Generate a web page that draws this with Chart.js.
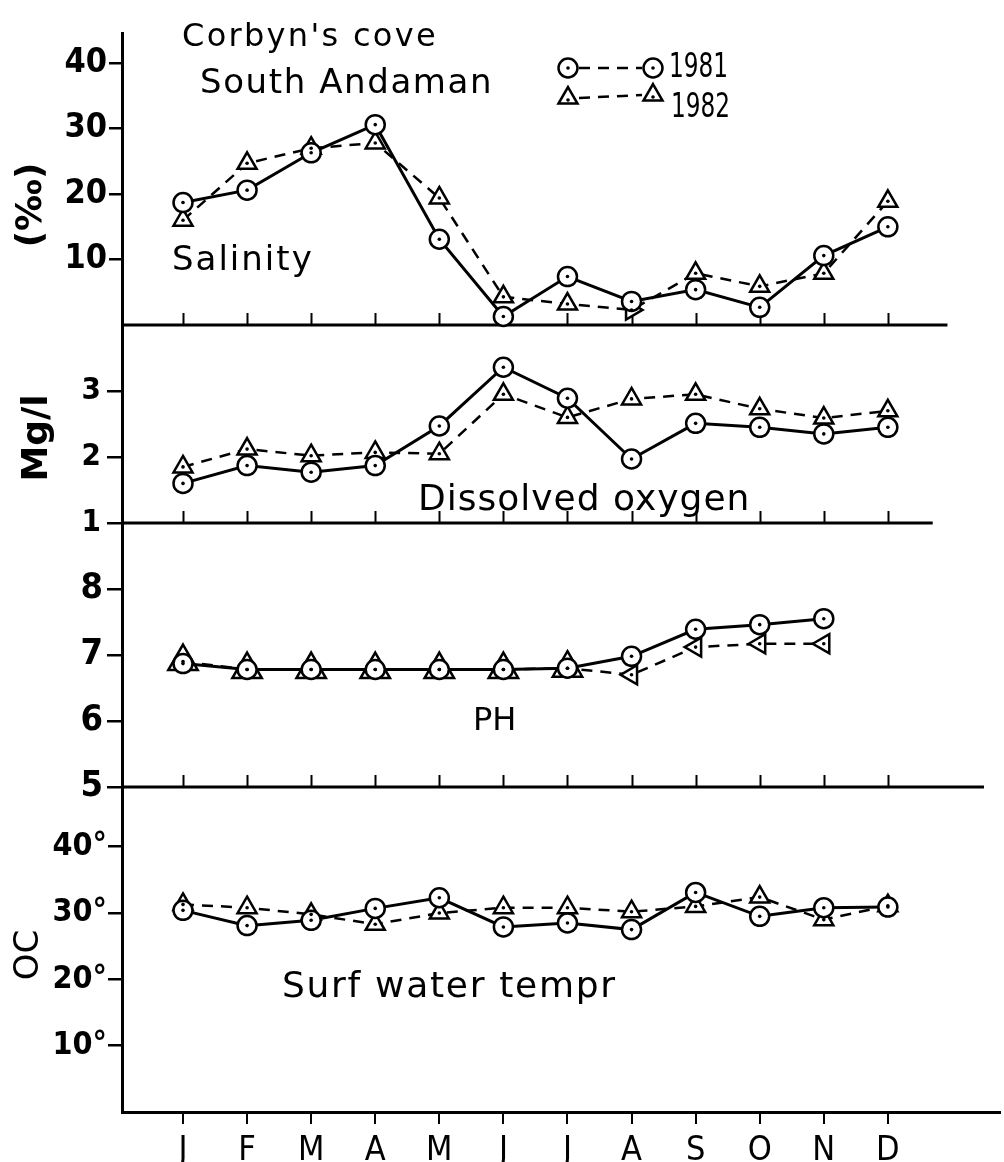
<!DOCTYPE html>
<html>
<head>
<meta charset="utf-8">
<script src="https://cdn.jsdelivr.net/npm/chart.js@4.4.1/dist/chart.umd.min.js"></script>
<style>
  html, body { margin: 0; padding: 0; background: #fff; }
  #wrap { position: relative; width: 1004px; height: 1162px; overflow: hidden; }
  canvas { position: absolute; left: 0; }
</style>
</head>
<body>
<div id="wrap">
  <canvas id="c-sal" width="1004" height="340" style="top:0px"></canvas>
  <canvas id="c-oxy" width="1004" height="218" style="top:315px"></canvas>
  <canvas id="c-ph" width="1004" height="284" style="top:513px"></canvas>
  <canvas id="c-temp" width="1004" height="385" style="top:777px"></canvas>
</div>
<script>
const months = ['J', 'F', 'M', 'A', 'M', 'J', 'J', 'A', 'S', 'O', 'N', 'D']

const salinity1981 = [18.7, 20.6, 26.3, 30.6, 13.1, 1.3, 7.4, 3.6, 5.4, 2.7, 10.6, 15.0]
const salinity1982 = [16.0, 24.7, 27.0, 27.8, 19.4, 4.3, 3.2, 2.3, 7.9, 5.9, 7.9, 18.9]
const oxygen1981   = [1.60, 1.87, 1.77, 1.87, 2.47, 3.36, 2.89, 1.97, 2.51, 2.45, 2.35, 2.45]
const oxygen1982   = [1.85, 2.12, 2.02, 2.07, 2.05, 2.95, 2.60, 2.88, 2.95, 2.73, 2.59, 2.70]
const ph1981       = [6.87, 6.78, 6.78, 6.78, 6.78, 6.78, 6.80, 6.98, 7.39, 7.46, 7.55, null]
const ph1982       = [6.90, 6.78, 6.78, 6.78, 6.78, 6.78, 6.80, 6.70, 7.12, 7.17, 7.17, null]
const temp1981     = [30.4, 28.1, 28.9, 30.7, 32.3, 27.9, 28.5, 27.5, 33.1, 29.5, 30.8, 30.9]
const temp1982     = [31.3, 30.8, 29.8, 28.3, 30.0, 30.8, 30.8, 30.2, 31.0, 32.4, 29.0, 31.1]

const salinityTicks = [10, 20, 30, 40]
const oxygenTicks   = [1, 2, 3]
const phTicks       = [5, 6, 7, 8]
const tempTicks     = [10, 20, 30, 40]

const NARROW = '"DejaVu Sans Condensed", "Liberation Sans Narrow", sans-serif'
const LETTER = '"DejaVu Sans", sans-serif'

Chart.defaults.color = '#000'
Chart.defaults.animation = false

// free text + legend drawn on the canvas
const annotate = {
  id: 'annotate',
  afterDraw(chart, args, opts) {
    const ctx = chart.ctx
    for (const t of opts.texts || []) {
      ctx.save()
      ctx.fillStyle = '#000'
      ctx.font = t.font
      ctx.letterSpacing = (t.spacing || 0) + 'px'
      ctx.translate(t.x, t.y)
      if (t.rotate) ctx.rotate(t.rotate)
      ctx.textAlign = t.align || 'left'
      ctx.textBaseline = t.baseline || 'alphabetic'
      ctx.fillText(t.text, 0, 0)
      ctx.restore()
    }
    for (const l of opts.legend || []) {
      ctx.save()
      ctx.strokeStyle = '#000'
      ctx.lineWidth = 2.5
      ctx.setLineDash([11, 8])
      ctx.beginPath()
      ctx.moveTo(l.x1 + 11, l.y1)
      ctx.lineTo(l.x2 - 11, l.y2)
      ctx.stroke()
      ctx.setLineDash([])
      ctx.fillStyle = '#fff'
      for (const [px, py] of [[l.x1, l.y1], [l.x2, l.y2]]) {
        Chart.helpers.drawPoint(ctx, { pointStyle: l.style, radius: l.r, rotation: 0, borderWidth: 2.5 }, px, py)
        ctx.save(); ctx.fillStyle = '#000'
        ctx.beginPath(); ctx.arc(px, py + (l.style === 'triangle' ? 2 : 0), 1.8, 0, Math.PI * 2); ctx.fill()
        ctx.restore()
      }
      // hand lettering is narrower than any installed face
      ctx.fillStyle = '#000'
      ctx.font = l.font
      ctx.translate(l.tx, l.ty)
      ctx.scale(0.76, 1)
      ctx.fillText(l.label, 0, 0)
      ctx.restore()
    }
  }
}

// bottom rule of an inner panel, with month ticks pointing up
const frame = {
  id: 'frame',
  beforeDatasetsDraw(chart, args, opts) {
    if (opts.lineEnd == null) return
    const { ctx, chartArea: a, scales: { x } } = chart
    ctx.save()
    ctx.strokeStyle = '#000'
    ctx.lineWidth = 3
    ctx.beginPath()
    ctx.moveTo(a.left, a.bottom)
    ctx.lineTo(x.getPixelForValue(opts.lineEnd), a.bottom)
    ctx.stroke()
    ctx.lineWidth = 2
    ctx.beginPath()
    months.forEach((m, i) => {
      const px = Math.round(x.getPixelForValue(i)) + 0.5
      ctx.moveTo(px, a.bottom)
      ctx.lineTo(px, a.bottom - 12)
    })
    ctx.stroke()
    ctx.restore()
  }
}

// the little dot in the middle of each marker
const centreDots = {
  id: 'centreDots',
  afterDatasetsDraw(chart) {
    const ctx = chart.ctx
    ctx.save()
    ctx.fillStyle = '#000'
    chart.data.datasets.forEach((ds, i) => {
      chart.getDatasetMeta(i).data.forEach(pt => {
        if (pt.skip) return
        ctx.beginPath()
        ctx.arc(pt.x, pt.y, 1.8, 0, Math.PI * 2)
        ctx.fill()
      })
    })
    ctx.restore()
  }
}

const toPoints = arr => arr.map((v, i) => ({ x: i, y: v }))

function series(v1981, v1982, opt = {}) {
  return [
    {
      label: '1981',
      data: toPoints(v1981),
      borderColor: '#000',
      borderWidth: 3,
      pointStyle: 'circle',
      pointRadius: opt.circleR || 9.5,
      pointBorderWidth: 2.5,
      pointBackgroundColor: '#fff',
      pointBorderColor: '#000',
      clip: false,
      spanGaps: false,
    },
    {
      label: '1982',
      data: toPoints(v1982),
      borderColor: '#000',
      borderWidth: 2.5,
      borderDash: [11, 8],
      pointStyle: 'triangle',
      pointRadius: opt.triR || 11,
      pointRotation: opt.triRot || 0,
      pointBorderWidth: 2.5,
      pointBackgroundColor: '#fff',
      pointBorderColor: '#000',
      clip: false,
      spanGaps: false,
    },
  ]
}

function yScale(min, max, ticks, size, tickLen, pad, fmt) {
  return {
    type: 'linear',
    min, max,
    afterFit: s => { s.width = 122; s.paddingTop = 0; s.paddingBottom = 0 },
    afterBuildTicks: s => { s.ticks = ticks.map(v => ({ value: v })) },
    border: { display: true, color: '#000', width: 3 },
    grid: { drawOnChartArea: false, drawTicks: true, tickLength: tickLen, color: '#000', lineWidth: 2.5 },
    ticks: { color: '#000', padding: pad, font: { family: NARROW, size, weight: 'bold' }, callback: fmt || (v => v) },
  }
}

function xScale(show) {
  return {
    type: 'linear',
    min: -0.952, max: 12.75,
    display: show,
    afterFit: s => { if (show) s.height = 50; s.paddingLeft = 0; s.paddingRight = 0 },
    afterBuildTicks: s => { s.ticks = months.map((m, i) => ({ value: i })) },
    border: { display: show, color: '#000', width: 3 },
    grid: { drawOnChartArea: false, drawTicks: true, tickLength: 12, color: '#000', lineWidth: 2 },
    ticks: { color: '#000', padding: 7, autoSkip: false, maxRotation: 0, font: { family: NARROW, size: 34 }, callback: v => months[v] },
  }
}

function panel(id, datasets, y, pad, plugins) {
  return new Chart(document.getElementById(id), {
    type: 'line',
    data: { datasets },
    options: {
      responsive: false,
      animation: false,
      layout: { autoPadding: false, padding: { left: 0, right: 4, top: pad.top, bottom: pad.bottom } },
      scales: { x: xScale(pad.showX), y },
      plugins: { legend: { display: false }, tooltip: { enabled: false }, ...plugins },
    },
    plugins: [frame, annotate, centreDots],
  })
}

panel('c-sal',
  series(salinity1981, salinity1982, { triRot: [0, 0, 0, 0, 0, 0, 0, 90, 0, 0, 0, 0] }),
  yScale(0, 44.6, salinityTicks, 34, 13, 2),
  { top: 33, bottom: 15, showX: false },
  {
    frame: { lineEnd: 11.93 },
    annotate: {
      texts: [
        { text: "Corbyn's cove", x: 182, y: 46, font: `32px ${LETTER}`, spacing: 2.3 },
        { text: 'South Andaman', x: 200, y: 93, font: `34px ${LETTER}`, spacing: 1.6 },
        { text: 'Salinity', x: 172, y: 270, font: `34px ${LETTER}`, spacing: 2 },
        { text: '(‰)', x: 32, y: 205, rotate: -Math.PI / 2, align: 'center', baseline: 'middle', font: `bold 36px ${LETTER}` },
      ],
      legend: [
        { style: 'circle', r: 9.5, x1: 568, y1: 68, x2: 653, y2: 68, label: '1981', tx: 669, ty: 77, font: `34px ${NARROW}` },
        { style: 'triangle', r: 11, x1: 568, y1: 98, x2: 653, y2: 95, label: '1982', tx: 671, ty: 117, font: `34px ${NARROW}` },
      ],
    },
  })

panel('c-oxy',
  series(oxygen1981, oxygen1982),
  yScale(1, 4, oxygenTicks, 31, 15, 6),
  { top: 10, bottom: 10, showX: false },
  {
    frame: { lineEnd: 11.7 },
    annotate: {
      texts: [
        { text: 'Mg/l', x: 38, y: 123, rotate: -Math.PI / 2, align: 'center', baseline: 'middle', font: `bold 36px ${LETTER}` },
        { text: 'Dissolved oxygen', x: 418, y: 195, font: `36px ${LETTER}`, spacing: 1 },
      ],
    },
  })

panel('c-ph',
  series(ph1981, ph1982, {
    triR: [17, 17, 17, 17, 17, 17, 17, 11, 11, 11, 11, 11],
    triRot: [0, 0, 0, 0, 0, 0, 0, -90, -90, -90, -90, 0],
  }),
  yScale(5, 9, phTicks, 36, 15, 4),
  { top: 10, bottom: 10, showX: false },
  {
    frame: { lineEnd: 12.5 },
    annotate: {
      texts: [
        { text: 'PH', x: 473, y: 217, font: `32px ${LETTER}` },
      ],
    },
  })

panel('c-temp',
  series(temp1981, temp1982),
  yScale(0, 49, tempTicks, 32, 14, 1, v => v + '°'),
  { top: 10, bottom: 0, showX: true },
  {
    frame: { lineEnd: null },
    annotate: {
      texts: [
        { text: 'OC', x: 29, y: 178, rotate: -Math.PI / 2, align: 'center', baseline: 'middle', font: `34px ${LETTER}` },
        { text: 'Surf water tempr', x: 282, y: 220, font: `36px ${LETTER}`, spacing: 1.7 },
      ],
    },
  })
</script>
</body>
</html>
